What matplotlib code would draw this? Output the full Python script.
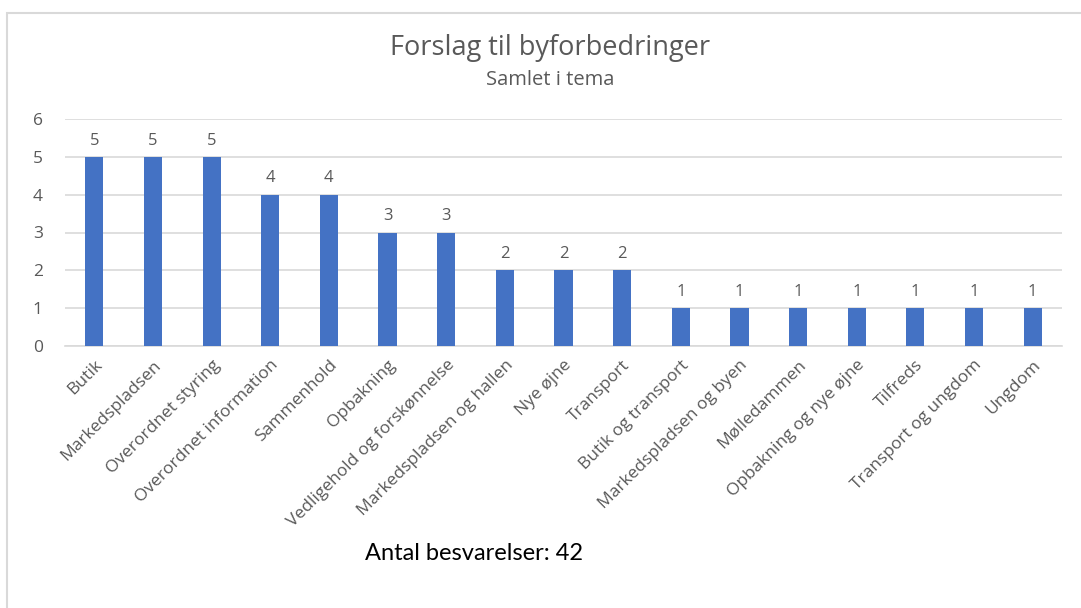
import matplotlib.pyplot as plt
from matplotlib.patches import Rectangle

categories = ['Butik', 'Markedspladsen', 'Overordnet styring', 'Overordnet information',
              'Sammenhold', 'Opbakning', 'Vedligehold og forskønnelse',
              'Markedspladsen og hallen', 'Nye øjne', 'Transport', 'Butik og transport',
              'Markedspladsen og byen', 'Mølledammen', 'Opbakning og nye øjne',
              'Tilfreds', 'Transport og ungdom', 'Ungdom']
values = [5, 5, 5, 4, 4, 3, 3, 2, 2, 2, 1, 1, 1, 1, 1, 1, 1]
yticks = [0, 1, 2, 3, 4, 5, 6]

plt.rcParams['font.family'] = ['Open Sans', 'DejaVu Sans']
gray = '#595959'

fig = plt.figure(figsize=(10.81, 6.08), dpi=100)
# chart frame
fig.patches.append(Rectangle((7 / 1081, -0.05), 1.2, 1 - 13 / 608 + 0.05,
                             transform=fig.transFigure, fill=False,
                             edgecolor='#d9d9d9', linewidth=1.5))

ax = fig.add_axes([65 / 1081, 1 - 346 / 608, (1062 - 65) / 1081, (346 - 119) / 608])
x = range(len(categories))
bars = ax.bar(x, values, width=0.31, color='#4472c4', zorder=3)
ax.bar_label(bars, padding=6, fontsize=12, color=gray)

ax.set_xlim(-0.5, len(categories) - 0.5)
ax.set_ylim(0, 6)
ax.set_yticks(yticks)
ax.yaxis.grid(True, color='#d9d9d9', linewidth=1.2, zorder=0)
for s in ['top', 'right', 'left']:
    ax.spines[s].set_visible(False)
ax.spines['bottom'].set_color('#d9d9d9')
ax.spines['bottom'].set_linewidth(1.2)
ax.tick_params(axis='both', length=0, colors=gray)
ax.tick_params(axis='y', labelsize=12.5, pad=16)
ax.set_xticks(list(x))
ax.set_xticklabels(categories, rotation=45, ha='right', rotation_mode='anchor',
                   fontsize=12.5, color=gray)
ax.tick_params(axis='x', pad=8)

fig.text(550 / 1081, 1 - 48 / 608, 'Forslag til byforbedringer', ha='center', va='center',
         fontsize=19.5, color=gray)
fig.text(550 / 1081, 1 - 80 / 608, 'Samlet i tema', ha='center', va='center',
         fontsize=14.5, color=gray)
fig.text(365 / 1081, 1 - 553 / 608, 'Antal besvarelser: 42', ha='left', va='center',
         fontsize=17, color='black', family=['Lato', 'DejaVu Sans'])

fig.savefig('out.png', dpi=100)
